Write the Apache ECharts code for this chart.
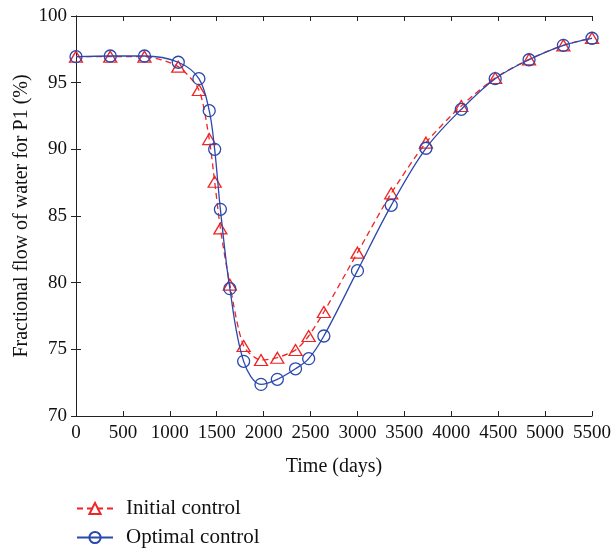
<!DOCTYPE html>
<html>
<head>
<meta charset="utf-8">
<script src="https://cdn.jsdelivr.net/npm/echarts@6/dist/echarts.min.js"></script>
<style>html,body{margin:0;padding:0;background:#fff;}#c{width:615px;height:552px;}</style>
</head>
<body>
<div id="c"></div>
<script>
var times = [0, 365, 730, 1090, 1310, 1420, 1478, 1539, 1640, 1787, 1972, 2146, 2340, 2480, 2642, 3000, 3360, 3730, 4107, 4468, 4829, 5195, 5500];
var initialControl = [96.95, 96.95, 96.95, 96.2, 94.45, 90.77, 87.57, 84.07, 79.85, 75.25, 74.2, 74.37, 74.95, 76.0, 77.8, 82.25, 86.7, 90.5, 93.25, 95.35, 96.75, 97.8, 98.35];
var optimalControl = [96.95, 97.0, 97.0, 96.53, 95.3, 92.9, 90.0, 85.5, 79.55, 74.1, 72.37, 72.75, 73.54, 74.3, 76.0, 80.9, 85.8, 90.08, 93.0, 95.3, 96.72, 97.8, 98.33];
var seriesNames = ['Initial control', 'Optimal control'];
var xName = 'Time (days)';
var yName = 'Fractional flow of water for P1 (%)';

function pairs(xs, ys) { return xs.map(function (x, i) { return [x, ys[i]]; }); }

var font = '"Liberation Serif", "DejaVu Serif", serif';
var red = '#f02424';
var blue = '#2b48ad';
var axisCommon = {
  axisLine: { show: true, lineStyle: { color: '#222', width: 1 } },
  axisTick: { show: true, inside: true, length: 5, lineStyle: { color: '#222' } },
  splitLine: { show: false }
};

var chart = echarts.init(document.getElementById('c'), null, { renderer: 'canvas' });
chart.setOption({
  animation: false,
  backgroundColor: '#fff',
  grid: { left: 76, right: 23, top: 16, bottom: 136 },
  xAxis: [
    Object.assign({
      type: 'value', min: 0, max: 5500, interval: 500,
      name: xName, nameLocation: 'middle', nameGap: 41, nameMoveOverlap: false,
      nameTextStyle: { fontFamily: font, fontSize: 20, color: '#111' },
      axisLabel: { fontFamily: font, fontSize: 19, color: '#111', margin: 8, formatter: function (v) { return String(v); } }
    }, axisCommon),
    Object.assign({
      type: 'value', min: 0, max: 5500, interval: 500, position: 'top',
      axisLabel: { show: false }
    }, axisCommon)
  ],
  yAxis: [
    Object.assign({
      type: 'value', min: 70, max: 100, interval: 5,
      name: yName, nameLocation: 'middle', nameGap: 44, nameMoveOverlap: false,
      nameTextStyle: { fontFamily: font, fontSize: 20, color: '#111' },
      axisLabel: { fontFamily: font, fontSize: 19, color: '#111', margin: 9 }
    }, axisCommon),
    Object.assign({
      type: 'value', min: 70, max: 100, interval: 5, position: 'right',
      axisLabel: { show: false }
    }, axisCommon)
  ],
  legend: {
    orient: 'vertical', left: 76, top: 498, height: 60, padding: 0, itemGap: 8,
    itemWidth: 36, itemHeight: 14,
    textStyle: { fontFamily: font, fontSize: 21, color: '#111', padding: [0, 0, 0, 8] },
    data: seriesNames
  },
  series: [
    {
      name: seriesNames[0], type: 'line', data: pairs(times, initialControl),
      smooth: 0.25,
      symbol: 'triangle', symbolSize: [13, 11],
      lineStyle: { color: red, width: 1.3, type: [6, 4] },
      itemStyle: { color: 'rgba(255,255,255,0)', borderColor: red, borderWidth: 1.3 },
      z: 2
    },
    {
      name: seriesNames[1], type: 'line', data: pairs(times, optimalControl),
      smooth: 0.35,
      symbol: 'circle', symbolSize: 12,
      lineStyle: { color: blue, width: 1.3 },
      itemStyle: { color: 'rgba(255,255,255,0)', borderColor: blue, borderWidth: 1.3 },
      z: 3
    }
  ]
});
</script>
</body>
</html>
